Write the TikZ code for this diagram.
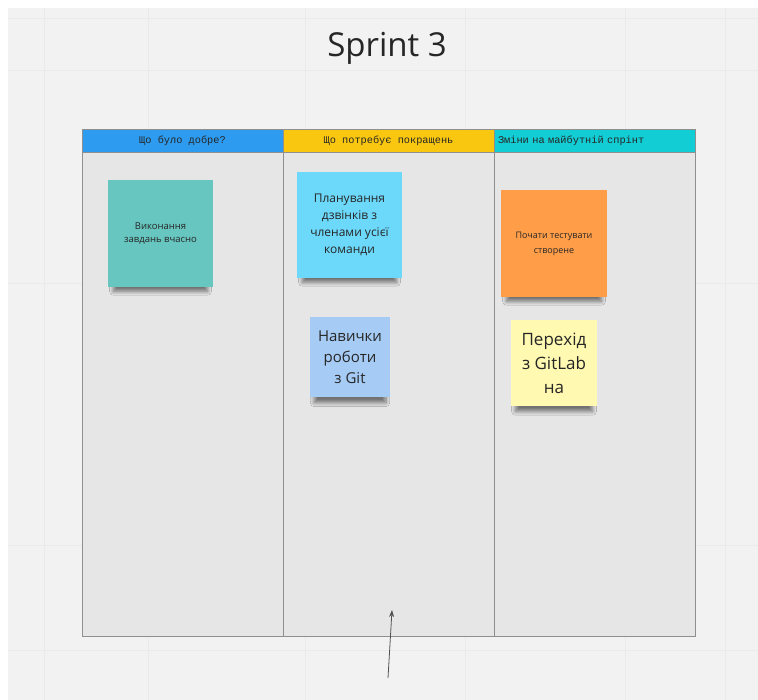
\documentclass[tikz,border=0pt]{standalone}
\usepackage{fontspec}
\setmainfont{Open Sans}
\newfontfamily\headfont{Liberation Mono}
\usetikzlibrary{arrows.meta,shadows.blur}

\definecolor{canvas}{HTML}{F2F2F2}
\definecolor{gridline}{HTML}{EAEAEA}
\definecolor{boardgray}{HTML}{E6E6E6}
\definecolor{framegray}{HTML}{8F8F8F}
\definecolor{inkgray}{HTML}{262626}
\definecolor{headblue}{HTML}{2D9BF0}
\definecolor{headyellow}{HTML}{FAC710}
\definecolor{headcyan}{HTML}{12CDD4}
\definecolor{noteteal}{HTML}{67C6C0}
\definecolor{noteblue}{HTML}{6CD8FA}
\definecolor{notepale}{HTML}{A6CCF5}
\definecolor{noteorange}{HTML}{FF9D48}
\definecolor{noteyellow}{HTML}{FFF9B1}

\begin{document}
\begin{tikzpicture}[
  x=1pt, y=-1pt,
  every node/.style={text=inkgray},
  head/.style={draw=framegray, line width=0.8pt, minimum height=23pt, inner sep=0pt, font=\headfont\fontsize{10.3}{11}\selectfont},
  column/.style={draw=framegray, line width=0.8pt, fill=boardgray, inner sep=0pt, minimum height=484pt},
  sticky/.style={align=center, inner sep=2pt,
    blur shadow={shadow xshift=0pt, shadow yshift=-11pt, shadow scale=0.9, shadow blur radius=4pt, shadow blur steps=12, shadow opacity=50}}
]
  % canvas and its grid
  \useasboundingbox (0,0) rectangle (758,700);
  \fill[white] (0,0) rectangle (758,700);
  \fill[canvas] (8,8) rectangle (758,700);
  \foreach \x in {44,148,305,465,625,725}
    \draw[gridline, line width=0.8pt] (\x,8) -- (\x,700);
  \foreach \y in {18,70,283,545,650}
    \draw[gridline, line width=0.8pt] (8,\y) -- (758,\y);

  \node[font=\fontsize{33}{38}\selectfont] (title) at (387,48) {Sprint 3};

  % board columns
  \node[column, minimum width=201pt] (good) at (182.5,394) {};
  \node[column, minimum width=211pt] (better) at (388.5,394) {};
  \node[column, minimum width=201pt] (changes) at (594.5,394) {};

  \node[head, fill=headblue, minimum width=201pt] (goodhead) at (182.5,140.5) {Що було добре?};
  \node[head, fill=headyellow, minimum width=211pt] (betterhead) at (388.5,140.5) {Що потребує покращень};
  \node[head, fill=headcyan, text width=193pt, inner xsep=4pt, align=left] (changeshead) at (594.5,140.5) {Зміни на майбутній спрінт};

  % sticky notes
  \node[sticky, fill=noteteal, minimum width=105pt, minimum height=107pt, font=\fontsize{9.5}{13}\selectfont] (ontime) at (160.5,233.5) {Виконання\\завдань вчасно};
  \node[sticky, fill=noteblue, minimum width=105pt, minimum height=106pt, font=\fontsize{12}{17}\selectfont] (calls) at (349.5,225) {Планування\\дзвінків з\\членами усієї\\команди};
  \node[sticky, fill=notepale, minimum width=80pt, minimum height=80pt, font=\fontsize{15}{21}\selectfont] (gitskills) at (350,357) {Навички\\роботи\\з Git};
  \node[sticky, fill=noteorange, minimum width=106pt, minimum height=107pt, font=\fontsize{9}{15}\selectfont] (testing) at (554,243.5) {Почати тестувати\\створене};
  \node[sticky, fill=noteyellow, minimum width=86pt, minimum height=86pt, font=\fontsize{17}{24}\selectfont] (gitlab) at (554,363) {Перехід\\з GitLab\\на};

  \coordinate (tail) at (388,678);
  \coordinate (tip) at (392,610);
  \draw[-{Stealth[length=7pt, width=5pt]}, inkgray!80, line width=0.8pt] (tail) -- (tip);
\end{tikzpicture}
\end{document}
